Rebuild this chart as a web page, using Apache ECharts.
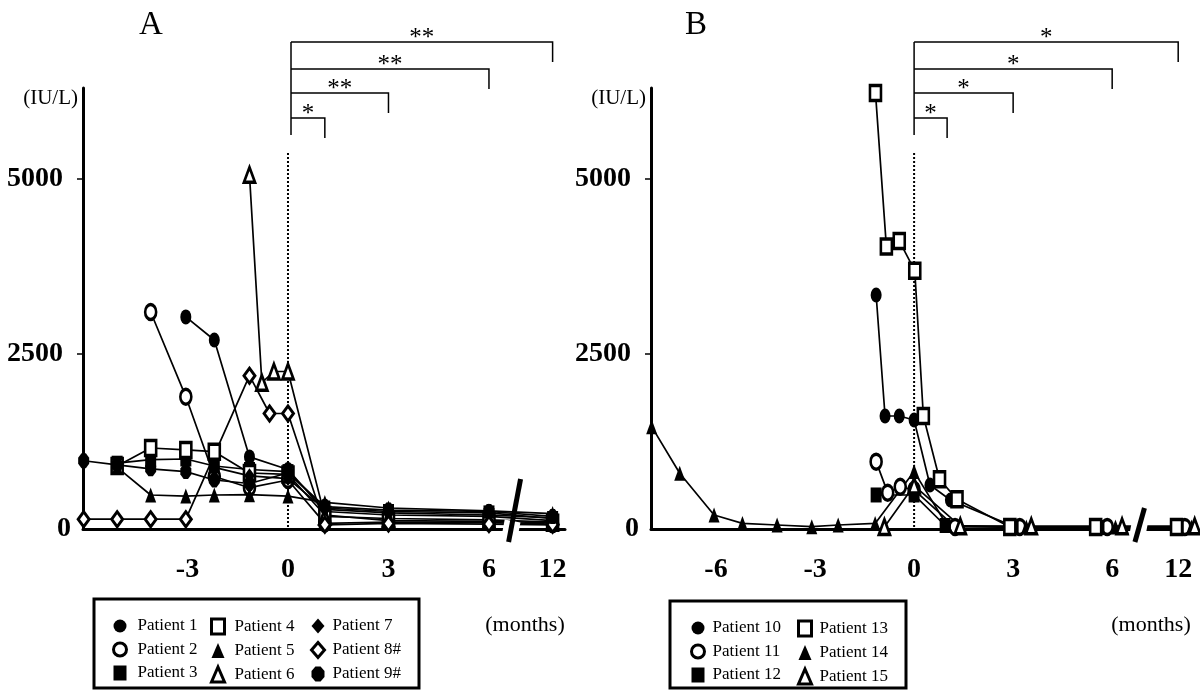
<!DOCTYPE html>
<html>
<head>
<meta charset="utf-8">
<script src="https://cdn.jsdelivr.net/npm/echarts@6/dist/echarts.min.js"></script>
<style>
html,body{margin:0;padding:0;background:#fff;}
#c{width:1200px;height:692px;}
</style>
</head>
<body>
<div id="c"></div>
<script>
// ---------------- DATA ----------------
// Panel A (months relative to treatment, IU/L)
const p1Months = [-3.05, -2.2, -1.15, 0, 1.1, 3, 6, 12];
const p1Values = [3030, 2700, 1030, 850, 250, 200, 180, 120];
const p2Months = [-4.1, -3.05, -2.2, -1.15, 0, 1.1, 3, 6, 12];
const p2Values = [3100, 1890, 750, 590, 700, 80, 100, 90, 70];
const p3Months = [-5.1, -4.1, -3.05, -2.2, -1.15, 0, 1.1, 3, 6, 12];
const p3Values = [940, 990, 1000, 900, 850, 820, 300, 250, 230, 150];
const p4Months = [-5.1, -4.1, -3.05, -2.2, -1.15, 0, 1.1, 3, 6, 12];
const p4Values = [900, 1157, 1130, 1105, 800, 780, 200, 120, 110, 90];
const p5Months = [-5.1, -4.1, -3.05, -2.2, -1.15, 0, 1.1, 3, 6, 12];
const p5Values = [880, 486, 470, 486, 490, 470, 380, 300, 260, 220];
const p6Months = [-1.15, -0.78, -0.42, 0, 1.1, 3, 6, 12];
const p6Values = [5060, 2090, 2250, 2250, 180, 150, 130, 100];
const p7Months = [-2.2, -1.15, 0, 1.1, 3, 6, 12];
const p7Values = [880, 760, 720, 280, 230, 200, 160];
const p8Months = [-6.1, -5.1, -4.1, -3.05, -1.15, -0.55, 0, 1.1, 3, 6, 12];
const p8Values = [140, 140, 140, 140, 2190, 1650, 1650, 60, 80, 70, 60];
const p9Months = [-6.1, -5.1, -4.1, -3.05, -2.2, -1.15, 0, 1.1, 3, 6, 12];
const p9Values = [975, 915, 860, 820, 700, 650, 800, 320, 270, 250, 180];

// Panel B
const p10Months = [-1.15, -0.88, -0.45, 0, 0.48, 1.1, 3.1, 5.7, 12.1];
const p10Values = [3343, 1614, 1614, 1557, 629, 414, 20, 20, 20];
const p11Months = [-1.15, -0.8, -0.42, 0, 1.24, 3.2, 5.85, 12.2];
const p11Values = [962, 519, 604, 560, 30, 30, 30, 30];
const p12Months = [-1.15, 0, 0.94, 3.0, 5.6, 12.0];
const p12Values = [486, 486, 50, 20, 20, 20];
const p13Months = [-1.17, -0.84, -0.45, 0.02, 0.28, 0.77, 1.3, 2.9, 5.5, 11.95];
const p13Values = [6230, 4034, 4115, 3691, 1614, 710, 424, 30, 30, 30];
const p14Months = [-7.95, -7.1, -6.06, -5.2, -4.15, -3.1, -2.3, -1.18, 0, 1.0, 3.4, 6.1, 12.4];
const p14Values = [1462, 796, 200, 80, 57, 33, 57, 80, 820, 50, 30, 30, 30];
const p15Months = [-0.9, 0, 1.4, 3.55, 6.3, 12.5];
const p15Values = [30, 620, 40, 40, 40, 40];

const namesA = ['Patient 1','Patient 2','Patient 3','Patient 4','Patient 5','Patient 6','Patient 7','Patient 8#','Patient 9#'];
const namesB = ['Patient 10','Patient 11','Patient 12','Patient 13','Patient 14','Patient 15'];

// axis tick labels
const xTicksA = [-3, 0, 3, 6, 12];
const xTicksB = [-6, -3, 0, 3, 6, 12];
const yTicks = [0, 2500, 5000];
const yMinorTicks = [2500, 5000];

// significance brackets (end month) and stars
const bracketA = [1.1, 3, 6, 12];
const starsA = ['*', '**', '**', '**'];
const bracketB = [1, 3, 6, 12];
const starsB = ['*', '*', '*', '*'];

// ---------------- LAYOUT / SCALES ----------------
const FONT = 'Liberation Serif, Times New Roman, serif';
const PANELS = [
  {left: 83, width: 482, min: -6.12, max: 8.27, pos12: 7.9, breakPos: 6.66, bracket0: 0.09},
  {left: 651, width: 547, min: -7.97, max: 8.6, pos12: 8.0, breakPos: 6.8, bracket0: 0.0}
];
// months -> axis position (12-month point sits after the axis break)
function pos(m, p) { return m > 9 ? PANELS[p].pos12 + (m - 12) : m; }
function monthLabel(v, ticks, p) {
  for (const t of ticks) { if (Math.abs(pos(t, p) - v) < 1e-6) return String(t); }
  return '';
}

const black = '#000';
function filled(sym) { return {symbol: sym, itemStyle: {color: black, borderColor: black, borderWidth: 0}}; }
function hollow(sym) { return {symbol: sym, itemStyle: {color: '#fff', borderColor: black, borderWidth: 3}}; }
const OCT = 'path://M3,0 L7,0 L10,3 L10,7 L7,10 L3,10 L0,7 L0,3 Z';

const stylesA = [filled('circle'), hollow('circle'), filled('rect'), hollow('rect'), filled('triangle'),
                 hollow('triangle'), filled('diamond'), hollow('diamond'), filled(OCT)];
const stylesB = [filled('circle'), hollow('circle'), filled('rect'), hollow('rect'), filled('triangle'), hollow('triangle')];

const seriesDefA = [[p1Months,p1Values],[p2Months,p2Values],[p3Months,p3Values],[p4Months,p4Values],[p5Months,p5Values],
                    [p6Months,p6Values],[p7Months,p7Values],[p8Months,p8Values],[p9Months,p9Values]];
const seriesDefB = [[p10Months,p10Values],[p11Months,p11Values],[p12Months,p12Values],[p13Months,p13Values],
                    [p14Months,p14Values],[p15Months,p15Values]];

function makeSeries(defs, names, styles, p) {
  return defs.map((d, i) => ({
    type: 'line', name: names[i], xAxisIndex: p, yAxisIndex: p,
    data: d[0].map((m, k) => [pos(m, p), d[1][k]]),
    symbol: styles[i].symbol, symbolSize: [11, 15], symbolKeepAspect: false,
    itemStyle: styles[i].itemStyle,
    lineStyle: {color: black, width: 1.7},
    emphasis: {disabled: true}, animation: false, clip: false, z: 3
  }));
}

function xAxis(p, ticks) {
  const P = PANELS[p];
  return {
    gridIndex: p, type: 'value', min: P.min, max: P.max,
    axisLine: {show: true, onZero: false, lineStyle: {color: black, width: 3}},
    axisTick: {show: false}, splitLine: {show: false},
    axisLabel: {
      customValues: ticks.map(t => pos(t, p)),
      formatter: v => monthLabel(v, ticks, p),
      fontFamily: FONT, fontWeight: 'bold', fontSize: 28, color: black, margin: 27
    }
  };
}
function yAxis(p) {
  return {
    gridIndex: p, type: 'value', min: 0, max: 6300,
    axisLine: {show: true, onZero: false, lineStyle: {color: black, width: 3}},
    axisTick: {show: true, customValues: yMinorTicks, length: 6, lineStyle: {color: black, width: 1.5}},
    splitLine: {show: false},
    axisLabel: {
      customValues: yTicks,
      formatter: v => v === 0 ? '{z|0}' : '{n|' + v + '}',
      margin: 12,
      rich: {
        z: {fontFamily: FONT, fontWeight: 'bold', fontSize: 28, color: black},
        n: {fontFamily: FONT, fontWeight: 'bold', fontSize: 28, color: black, padding: [0, 8, 0, 0]}
      }
    }
  };
}

function legendCols(names, styles, cols, tops) {
  return cols.map(col => ({
    orient: 'vertical', left: col.left, top: tops, padding: 0,
    itemWidth: 13, itemHeight: 15, itemGap: 6.5, symbolKeepAspect: false,
    selectedMode: false,
    textStyle: {fontFamily: FONT, fontSize: 17, lineHeight: 13, color: black, padding: [2, 0, 0, col.pad]},
    data: col.idx.map(i => ({name: names[i], icon: styles[i].symbol, itemStyle: styles[i].itemStyle}))
  }));
}

const chart = echarts.init(document.getElementById('c'));
chart.setOption({
  animation: false,
  backgroundColor: '#fff',
  grid: PANELS.map(P => ({left: P.left, top: 88, width: P.width, height: 441, containLabel: false})),
  xAxis: [xAxis(0, xTicksA), xAxis(1, xTicksB)],
  yAxis: [yAxis(0), yAxis(1)],
  legend: [
    ...legendCols(namesA, stylesA, [
      {left: 112, idx: [0,1,2], pad: 6},
      {left: 210, idx: [3,4,5], pad: 5},
      {left: 310, idx: [6,7,8], pad: 3}
    ], 617.5),
    ...legendCols(namesB, stylesB, [
      {left: 690, idx: [0,1,2], pad: 3},
      {left: 797, idx: [3,4,5], pad: 3}
    ], 619.5)
  ],
  series: [...makeSeries(seriesDefA, namesA, stylesA, 0), ...makeSeries(seriesDefB, namesB, stylesB, 1)]
});

// ---------------- DECORATIONS ----------------
function px(p, x, y) { return chart.convertToPixel({gridIndex: p}, [x, y]); }
const g = [];
function panelDeco(p, letter, letterX, bracketEnds, stars, monthsX, boxRect) {
  const P = PANELS[p];
  const zero = px(p, 0, 0);
  const y0 = zero[1];
  // dotted reference line at month 0
  g.push({type: 'line', shape: {x1: zero[0], y1: 153, x2: zero[0], y2: y0},
          style: {stroke: black, lineWidth: 2, lineDash: [2, 2]}, z: 1, silent: true});
  // panel letter
  g.push({type: 'text', x: letterX, y: 25, style: {text: letter, font: '33px ' + FONT, fill: black, align: 'center', verticalAlign: 'middle'}});
  // (IU/L)
  g.push({type: 'text', x: P.left - 5, y: 98, style: {text: '(IU/L)', font: '21px ' + FONT, fill: black, align: 'right', verticalAlign: 'middle'}});
  // (months)
  g.push({type: 'text', x: monthsX, y: 625, style: {text: '(months)', font: '22px ' + FONT, fill: black, align: 'center', verticalAlign: 'middle'}});
  // brackets
  const xl = px(p, P.bracket0, 0)[0];
  const levels = [118, 93, 69, 42];
  g.push({type: 'line', shape: {x1: xl, y1: 42, x2: xl, y2: 135}, style: {stroke: black, lineWidth: 1.5}});
  bracketEnds.forEach((m, i) => {
    const xr = px(p, pos(m, p), 0)[0];
    const ly = levels[i];
    g.push({type: 'polyline', shape: {points: [[xl, ly], [xr, ly], [xr, ly + 20]]}, style: {stroke: black, lineWidth: 1.5, fill: null}});
    g.push({type: 'text', x: (xl + xr) / 2, y: ly - 4, style: {text: stars[i], font: '25px ' + FONT, fill: black, align: 'center', verticalAlign: 'middle'}});
  });
  // axis break
  const xb = px(p, P.breakPos, 0)[0];
  g.push({type: 'line', z: 100, shape: {x1: xb + 1.5, y1: y0 - 8, x2: xb - 1.5, y2: y0 + 8}, style: {stroke: '#fff', lineWidth: 16}});
  const top = p === 0 ? 50 : 21;
  const slope = p === 0 ? 0.19 : 0.28;
  g.push({type: 'line', z: 101, shape: {x1: xb + top * slope, y1: y0 - top, x2: xb - 13 * slope, y2: y0 + 13}, style: {stroke: black, lineWidth: 5}});
  // legend box
  g.push({type: 'rect', shape: boxRect, style: {stroke: black, lineWidth: 3, fill: null}});
}
panelDeco(0, 'A', 151, bracketA, starsA, 525, {x: 94, y: 599, width: 325, height: 89});
panelDeco(1, 'B', 696, bracketB, starsB, 1151, {x: 670, y: 601, width: 236, height: 87});
chart.setOption({graphic: g});
</script>
</body>
</html>
